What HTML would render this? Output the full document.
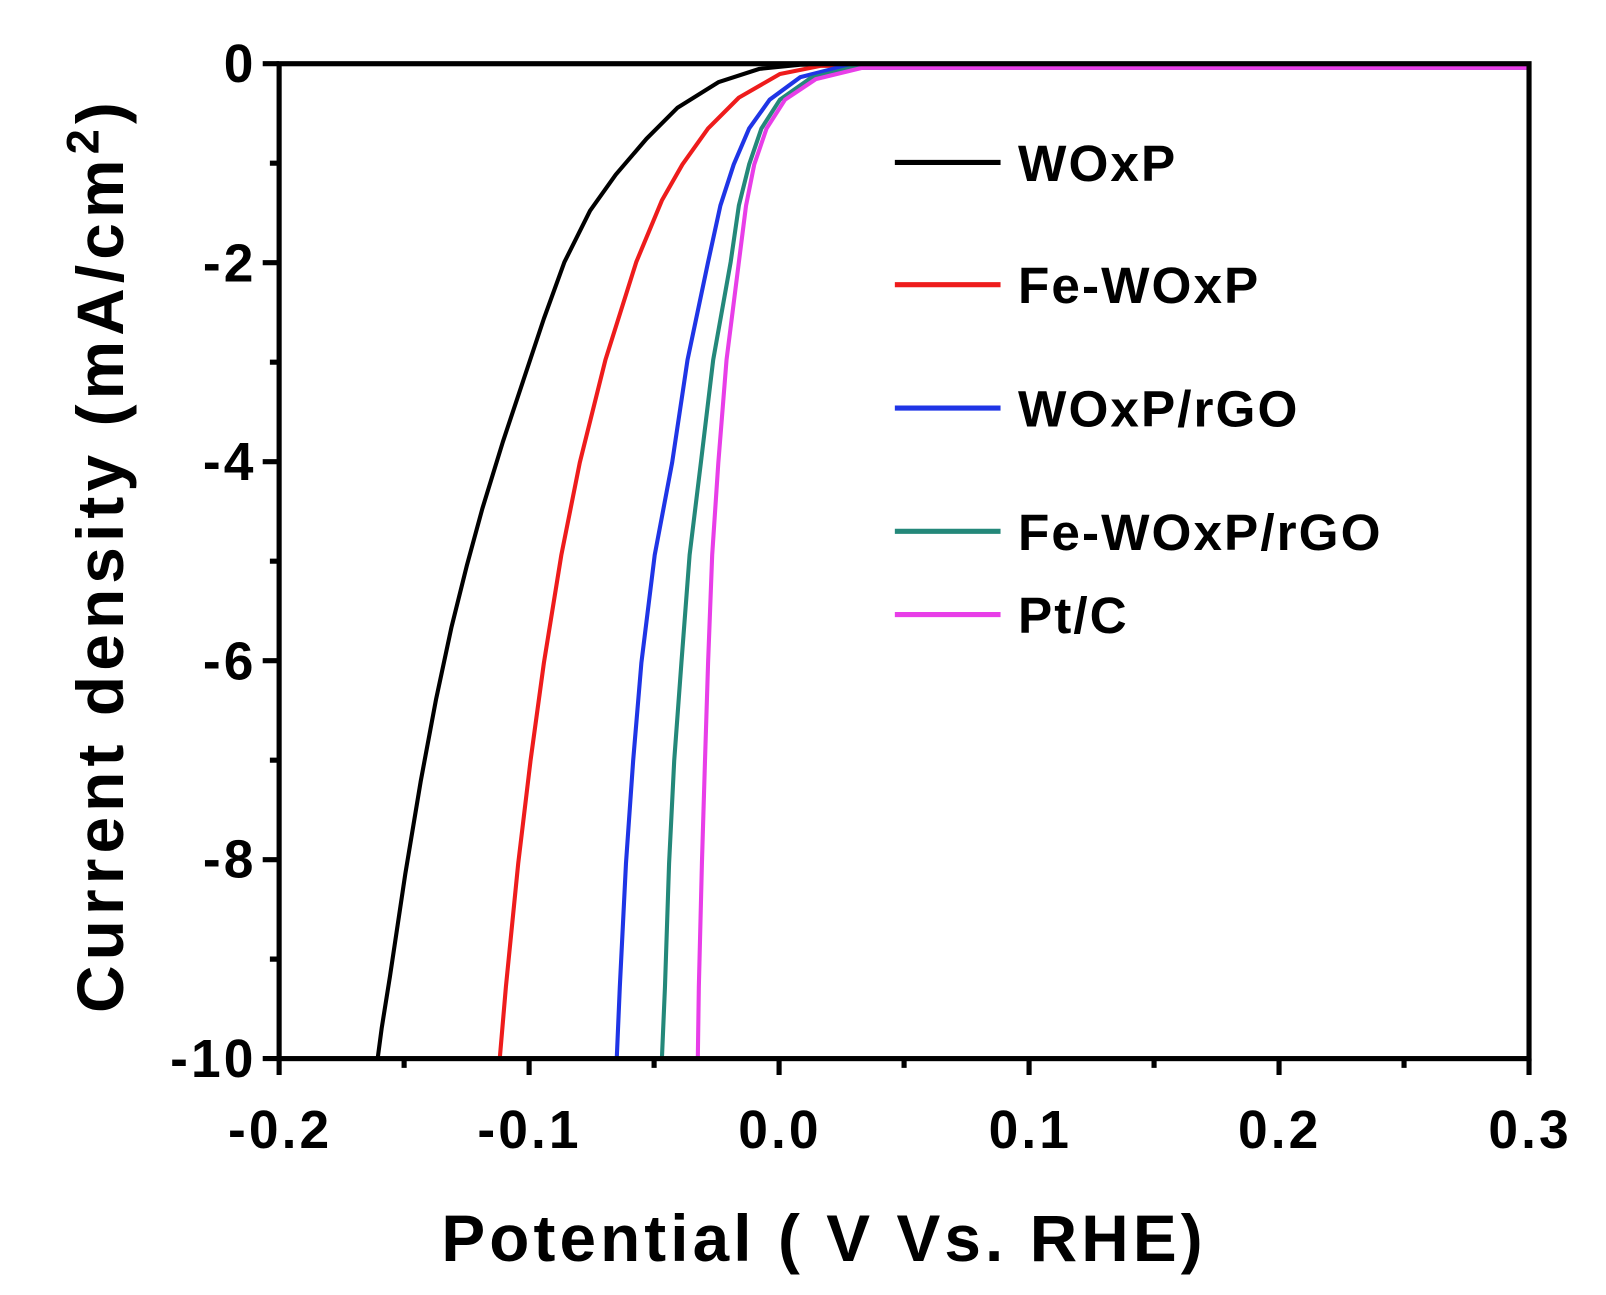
<!DOCTYPE html>
<html><head><style>html,body{margin:0;padding:0;background:#fff}svg{display:block}</style></head>
<body>
<svg width="1606" height="1295" viewBox="0 0 1565 1260" preserveAspectRatio="none" xmlns="http://www.w3.org/2000/svg" font-family="Liberation Sans, sans-serif" font-weight="bold">
<g fill="none" stroke-width="4" stroke-linejoin="round">
<path stroke="#000" d="M368,1030 L372,1000 380,950 395,850 410,760 425,680 440,610 455,550 470,495 490,430 510,370 530,310 550,255 575,205 600,170 630,135 660,105 700,80 740,67 780,63 1490,63"/>
<path stroke="#ee1c1c" d="M487,1030 L493,960 505,840 517,740 530,645 547,540 565,450 590,350 620,255 645,195 665,160 690,125 720,95 760,72 800,64 1490,64"/>
<path stroke="#1f35e6" d="M601,1030 L604,960 610,840 617,740 625,645 638,540 655,450 670,350 690,255 702,200 715,160 730,125 750,97 780,75 820,65 1490,65"/>
<path stroke="#24887a" d="M645,1030 L648,960 652,840 657,740 664,645 672,540 683,450 695,350 712,255 720,200 730,160 742,125 760,97 790,76 830,66 1490,66"/>
<path stroke="#e83ee8" d="M680,1030 L681,960 684,840 687,740 690,645 694,540 700,450 708,350 720,255 727,200 735,160 747,125 765,97 795,77 840,66 1490,66"/>
</g>
<g stroke="#000" stroke-width="5" fill="none">
<rect x="272" y="62" width="1218" height="968"/>
<path d="M272,1030v16M515.6,1030v16M759.2,1030v16M1002.8,1030v16M1246.4,1030v16M1490,1030v16M393.8,1030v9M637.4,1030v9M881,1030v9M1124.6,1030v9M1368.2,1030v9"/>
<path d="M272,62h-16M272,255.6h-16M272,449.2h-16M272,642.8h-16M272,836.4h-16M272,1030h-16M272,158.8h-9M272,352.4h-9M272,546h-9M272,739.6h-9M272,933.2h-9"/>
</g>
<g font-size="52" text-anchor="end" letter-spacing="3">
<text x="250" y="80">0</text><text x="250" y="274">-2</text><text x="250" y="467">-4</text><text x="250" y="661">-6</text><text x="250" y="854">-8</text><text x="250" y="1048">-10</text>
</g>
<g font-size="52" text-anchor="middle" letter-spacing="3">
<text x="273" y="1117">-0.2</text><text x="516" y="1117">-0.1</text><text x="760" y="1117">0.0</text><text x="1004" y="1117">0.1</text><text x="1247" y="1117">0.2</text><text x="1491" y="1117">0.3</text>
</g>
<text x="803" y="1227" font-size="64" letter-spacing="4" text-anchor="middle">Potential ( V Vs. RHE)</text>
<text transform="translate(120,540) rotate(-90)" font-size="64" letter-spacing="5" text-anchor="middle">Current density (mA/cm<tspan font-size="44" dy="-24">2</tspan><tspan dy="24">)</tspan></text>
<g stroke-width="5">
<line x1="872" y1="158" x2="975" y2="158" stroke="#000"/>
<line x1="872" y1="277" x2="975" y2="277" stroke="#ee1c1c"/>
<line x1="872" y1="397" x2="975" y2="397" stroke="#1f35e6"/>
<line x1="872" y1="517" x2="975" y2="517" stroke="#24887a"/>
<line x1="872" y1="598" x2="975" y2="598" stroke="#e83ee8"/>
</g>
<g font-size="50" letter-spacing="2">
<text x="992" y="176">WOxP</text>
<text x="992" y="295">Fe-WOxP</text>
<text x="992" y="415">WOxP/rGO</text>
<text x="992" y="535">Fe-WOxP/rGO</text>
<text x="992" y="616">Pt/C</text>
</g>
</svg>
</body></html>
